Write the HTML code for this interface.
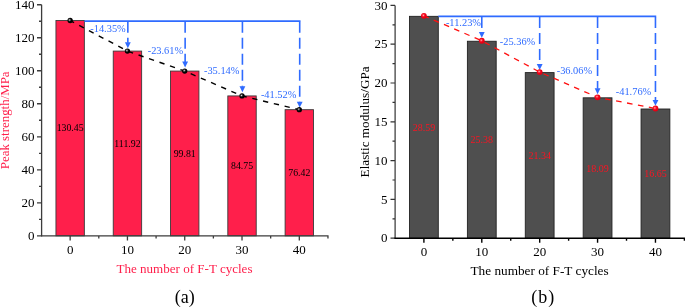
<!DOCTYPE html>
<html><head><meta charset="utf-8"><style>
html,body{margin:0;padding:0;background:#fff;overflow:hidden}
svg{display:block;will-change:transform}
text{font-family:"Liberation Serif", serif}
</style></head><body>
<svg width="685" height="307" viewBox="0 0 685 307">
<defs>
<radialGradient id="mk" cx="0.4" cy="0.4" r="0.6"><stop offset="0" stop-color="#eee"/><stop offset="0.25" stop-color="#555"/><stop offset="0.55" stop-color="#000"/><stop offset="1" stop-color="#000"/></radialGradient>
<radialGradient id="mr" cx="0.4" cy="0.4" r="0.6"><stop offset="0" stop-color="#ffd8d8"/><stop offset="0.25" stop-color="#ff3a48"/><stop offset="0.55" stop-color="#f00018"/><stop offset="1" stop-color="#e00010"/></radialGradient>
</defs>
<rect width="685" height="307" fill="#fff"/>
<rect x="55.95" y="20.51" width="28.4" height="215.29" fill="#ff1f4b" stroke="#3a3a3a" stroke-width="0.9"/>
<rect x="113.24" y="51.09" width="28.4" height="184.71" fill="#ff1f4b" stroke="#3a3a3a" stroke-width="0.9"/>
<rect x="170.53" y="71.07" width="28.4" height="164.73" fill="#ff1f4b" stroke="#3a3a3a" stroke-width="0.9"/>
<rect x="227.82" y="95.93" width="28.4" height="139.87" fill="#ff1f4b" stroke="#3a3a3a" stroke-width="0.9"/>
<rect x="285.11" y="109.68" width="28.4" height="126.12" fill="#ff1f4b" stroke="#3a3a3a" stroke-width="0.9"/>
<path d="M41.6 4.74V236.5M37 235.8H41.6M37 202.79H41.6M37 169.78H41.6M37 136.78H41.6M37 103.77H41.6M37 70.76H41.6M37 37.75H41.6M37 4.74H41.6M39 219.3H41.6M39 186.29H41.6M39 153.28H41.6M39 120.27H41.6M39 87.26H41.6M39 54.26H41.6M39 21.25H41.6" stroke="#3c3c3c" stroke-width="1.3" fill="none"/>
<path d="M41 235.8H328.56M70.15 235.8V240.4M127.44 235.8V240.4M184.73 235.8V240.4M242.02 235.8V240.4M299.31 235.8V240.4M98.8 235.8V238.4M156.09 235.8V238.4M213.38 235.8V238.4M270.67 235.8V238.4M327.96 235.8V238.4" stroke="#3c3c3c" stroke-width="1.3" fill="none"/>
<text x="34.6" y="240.05" font-size="13" text-anchor="end">0</text>
<text x="34.6" y="207.04" font-size="13" text-anchor="end">20</text>
<text x="34.6" y="174.03" font-size="13" text-anchor="end">40</text>
<text x="34.6" y="141.03" font-size="13" text-anchor="end">60</text>
<text x="34.6" y="108.02" font-size="13" text-anchor="end">80</text>
<text x="34.6" y="75.01" font-size="13" text-anchor="end">100</text>
<text x="34.6" y="42" font-size="13" text-anchor="end">120</text>
<text x="34.6" y="8.99" font-size="13" text-anchor="end">140</text>
<text x="70.15" y="254.3" font-size="13" text-anchor="middle">0</text>
<text x="127.44" y="254.3" font-size="13" text-anchor="middle">10</text>
<text x="184.73" y="254.3" font-size="13" text-anchor="middle">20</text>
<text x="242.02" y="254.3" font-size="13" text-anchor="middle">30</text>
<text x="299.31" y="254.3" font-size="13" text-anchor="middle">40</text>
<text x="70.15" y="131.45" font-size="9.8" text-anchor="middle" fill="#000">130.45</text>
<text x="127.44" y="146.74" font-size="9.8" text-anchor="middle" fill="#000">111.92</text>
<text x="184.73" y="156.74" font-size="9.8" text-anchor="middle" fill="#000">99.81</text>
<text x="242.02" y="169.16" font-size="9.8" text-anchor="middle" fill="#000">84.75</text>
<text x="299.31" y="176.04" font-size="9.8" text-anchor="middle" fill="#000">76.42</text>
<polyline points="70.15,20.51 127.44,51.09 184.73,71.07 242.02,95.93 299.31,109.68" fill="none" stroke="#000" stroke-width="1.4" stroke-dasharray="5.3 5.78" stroke-dashoffset="0.84"/>
<path d="M84.47 21.11H300.51" stroke="#2f6bff" stroke-width="1.6" fill="none"/>
<path d="M127.84 21.71V42.8" stroke="#2f6bff" stroke-width="1.6" fill="none" stroke-dasharray="11 5"/>
<path d="M124.94 42.3L130.74 42.3L127.84 48.2Z" fill="#2f6bff"/>
<path d="M185.13 21.71V62" stroke="#2f6bff" stroke-width="1.6" fill="none" stroke-dasharray="11 5"/>
<path d="M182.23 61.5L188.03 61.5L185.13 67.4Z" fill="#2f6bff"/>
<path d="M242.42 21.71V86.8" stroke="#2f6bff" stroke-width="1.6" fill="none" stroke-dasharray="11 5"/>
<path d="M239.52 86.3L245.32 86.3L242.42 92.2Z" fill="#2f6bff"/>
<path d="M299.71 21.71V102.2" stroke="#2f6bff" stroke-width="1.6" fill="none" stroke-dasharray="11 5"/>
<path d="M296.81 101.7L302.61 101.7L299.71 107.6Z" fill="#2f6bff"/>
<circle cx="70.15" cy="20.51" r="2.65" fill="url(#mk)"/>
<circle cx="127.44" cy="51.09" r="2.65" fill="url(#mk)"/>
<circle cx="184.73" cy="71.07" r="2.65" fill="url(#mk)"/>
<circle cx="242.02" cy="95.93" r="2.65" fill="url(#mk)"/>
<circle cx="299.31" cy="109.68" r="2.65" fill="url(#mk)"/>
<rect x="409.5" y="16.34" width="28.8" height="221.86" fill="#4f4f4f" stroke="#222" stroke-width="0.9"/>
<rect x="467.39" y="41.25" width="28.8" height="196.95" fill="#4f4f4f" stroke="#222" stroke-width="0.9"/>
<rect x="525.28" y="72.6" width="28.8" height="165.6" fill="#4f4f4f" stroke="#222" stroke-width="0.9"/>
<rect x="583.17" y="97.82" width="28.8" height="140.38" fill="#4f4f4f" stroke="#222" stroke-width="0.9"/>
<rect x="641.06" y="109" width="28.8" height="129.2" fill="#4f4f4f" stroke="#222" stroke-width="0.9"/>
<path d="M395.1 5.4V238.9M390.5 238.2H395.1M390.5 199.4H395.1M390.5 160.6H395.1M390.5 121.8H395.1M390.5 83H395.1M390.5 44.2H395.1M390.5 5.4H395.1M392.5 218.8H395.1M392.5 180H395.1M392.5 141.2H395.1M392.5 102.4H395.1M392.5 63.6H395.1M392.5 24.8H395.1" stroke="#333" stroke-width="1.2" fill="none"/>
<path d="M394.5 238.2H685M423.9 238.2V242.8M481.79 238.2V242.8M539.68 238.2V242.8M597.57 238.2V242.8M655.46 238.2V242.8M452.84 238.2V240.8M510.73 238.2V240.8M568.62 238.2V240.8M626.51 238.2V240.8M684.4 238.2V240.8" stroke="#000" stroke-width="1.4" fill="none"/>
<text x="387.4" y="242.45" font-size="13" text-anchor="end">0</text>
<text x="387.4" y="203.65" font-size="13" text-anchor="end">5</text>
<text x="387.4" y="164.85" font-size="13" text-anchor="end">10</text>
<text x="387.4" y="126.05" font-size="13" text-anchor="end">15</text>
<text x="387.4" y="87.25" font-size="13" text-anchor="end">20</text>
<text x="387.4" y="48.45" font-size="13" text-anchor="end">25</text>
<text x="387.4" y="9.65" font-size="13" text-anchor="end">30</text>
<text x="423.9" y="256.3" font-size="13" text-anchor="middle">0</text>
<text x="481.79" y="256.3" font-size="13" text-anchor="middle">10</text>
<text x="539.68" y="256.3" font-size="13" text-anchor="middle">20</text>
<text x="597.57" y="256.3" font-size="13" text-anchor="middle">30</text>
<text x="655.46" y="256.3" font-size="13" text-anchor="middle">40</text>
<text x="423.9" y="130.97" font-size="10" text-anchor="middle" fill="#fa1422">28.59</text>
<text x="481.79" y="143.43" font-size="10" text-anchor="middle" fill="#fa1422">25.38</text>
<text x="539.68" y="159.1" font-size="10" text-anchor="middle" fill="#fa1422">21.34</text>
<text x="597.57" y="171.71" font-size="10" text-anchor="middle" fill="#fa1422">18.09</text>
<text x="655.46" y="177.3" font-size="10" text-anchor="middle" fill="#fa1422">16.65</text>
<polyline points="423.9,15.84 481.79,40.75 539.68,72.1 597.57,97.32 655.46,108.5" fill="none" stroke="#ff1010" stroke-width="1.3" stroke-dasharray="5.6 5.52" stroke-dashoffset="0.41"/>
<path d="M438.37 16.34H656.26" stroke="#2f6bff" stroke-width="1.6" fill="none"/>
<path d="M481.79 16.94V32.4" stroke="#2f6bff" stroke-width="1.6" fill="none" stroke-dasharray="11 5"/>
<path d="M478.89 31.9L484.69 31.9L481.79 37.8Z" fill="#2f6bff"/>
<path d="M539.68 16.94V64.5" stroke="#2f6bff" stroke-width="1.6" fill="none" stroke-dasharray="11 5"/>
<path d="M536.78 64L542.58 64L539.68 69.9Z" fill="#2f6bff"/>
<path d="M597.57 16.94V88.8" stroke="#2f6bff" stroke-width="1.6" fill="none" stroke-dasharray="11 5"/>
<path d="M594.67 88.3L600.47 88.3L597.57 94.2Z" fill="#2f6bff"/>
<path d="M655.46 16.94V100.4" stroke="#2f6bff" stroke-width="1.6" fill="none" stroke-dasharray="11 5"/>
<path d="M652.56 99.9L658.36 99.9L655.46 105.8Z" fill="#2f6bff"/>
<circle cx="423.9" cy="15.84" r="2.9" fill="url(#mr)"/>
<circle cx="481.79" cy="40.75" r="2.9" fill="url(#mr)"/>
<circle cx="539.68" cy="72.1" r="2.9" fill="url(#mr)"/>
<circle cx="597.57" cy="97.32" r="2.9" fill="url(#mr)"/>
<circle cx="655.46" cy="108.5" r="2.9" fill="url(#mr)"/>
<text x="90.28" y="32.3" font-size="10.4" fill="#2f6bff">-14.35%</text>
<text x="147.68" y="53.8" font-size="10.4" fill="#2f6bff">-23.61%</text>
<text x="203.98" y="74.3" font-size="10.4" fill="#2f6bff">-35.14%</text>
<text x="260.88" y="98" font-size="10.4" fill="#2f6bff">-41.52%</text>
<text x="445.88" y="26.1" font-size="10.4" fill="#2f6bff">-11.23%</text>
<text x="499.78" y="44.9" font-size="10.4" fill="#2f6bff">-25.36%</text>
<text x="556.68" y="73.8" font-size="10.4" fill="#2f6bff">-36.06%</text>
<text x="615.78" y="95" font-size="10.4" fill="#2f6bff">-41.76%</text>
<text transform="translate(9.3 120.3) rotate(-90)" font-size="12.9" text-anchor="middle" fill="#ff1f4b">Peak strength/MPa</text>
<text transform="translate(369 121.9) rotate(-90)" font-size="13.2" text-anchor="middle">Elastic modulus/GPa</text>
<text x="184.5" y="273" font-size="13.05" text-anchor="middle" fill="#ff1f4b">The number of F-T cycles</text>
<text x="539.6" y="275.4" font-size="13.25" text-anchor="middle">The number of F-T cycles</text>
<text x="184.7" y="302.9" font-size="18" text-anchor="middle">(a)</text>
<text x="543.3" y="303" font-size="18" text-anchor="middle" letter-spacing="1">(b)</text>
</svg>
</body></html>
